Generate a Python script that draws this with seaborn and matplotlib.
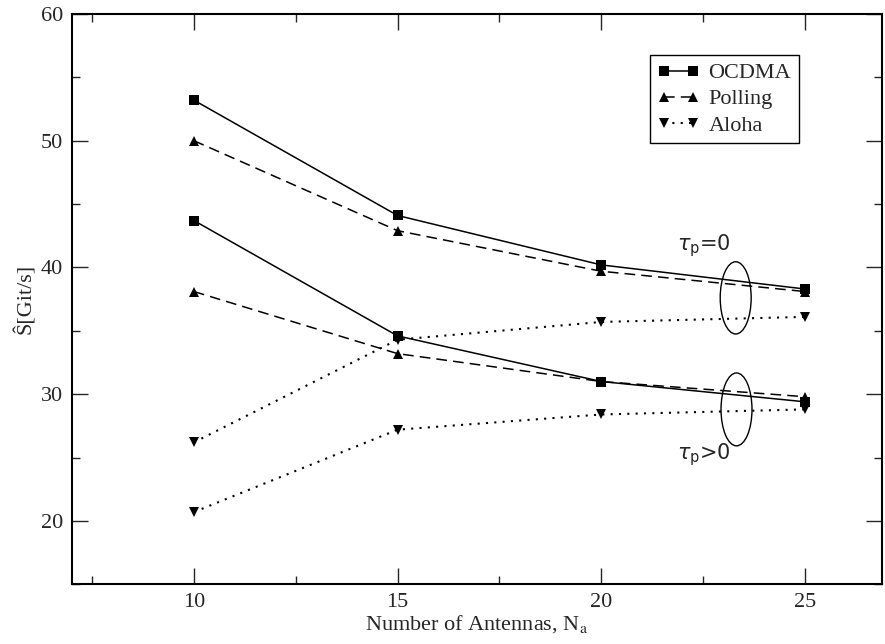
import matplotlib

matplotlib.use("Agg")
import matplotlib.pyplot as plt
import pandas as pd
import seaborn as sns
from matplotlib.patches import Ellipse
from matplotlib.ticker import MultipleLocator

# data
antennas = [10, 15, 20, 25]
ocdma_tau0 = [53.2, 44.1, 40.2, 38.3]
polling_tau0 = [50.0, 42.9, 39.7, 38.1]
aloha_tau0 = [26.2, 34.3, 35.7, 36.1]
ocdma_taupos = [43.7, 34.6, 31.0, 29.4]
polling_taupos = [38.1, 33.2, 31.0, 29.8]
aloha_taupos = [20.7, 27.2, 28.4, 28.8]

protocols = ["OCDMA", "Polling", "Aloha"]
series = {
    ("OCDMA", "tau0"): ocdma_tau0,
    ("Polling", "tau0"): polling_tau0,
    ("Aloha", "tau0"): aloha_tau0,
    ("OCDMA", "taupos"): ocdma_taupos,
    ("Polling", "taupos"): polling_taupos,
    ("Aloha", "taupos"): aloha_taupos,
}

rows = []
for (proto, case), vals in series.items():
    for n, s in zip(antennas, vals):
        rows.append({"Na": n, "S": s, "protocol": proto, "case": case})
df = pd.DataFrame(rows)

styles = {
    "OCDMA": dict(marker="s", markersize=6.5, linestyle="-", linewidth=1.1),
    "Polling": dict(marker="^", markersize=7.5, linestyle=(0, (7, 4)), linewidth=1.1),
    "Aloha": dict(marker="v", markersize=7.5, linestyle=(0, (1, 3)), linewidth=1.5),
}

sns.set_style("ticks")
plt.rcParams["font.family"] = ["Liberation Serif", "DejaVu Serif"]
plt.rcParams["mathtext.fontset"] = "stix"

fig = plt.figure(figsize=(8.85, 6.44), dpi=100)
ax = fig.add_axes([0.081, 0.0927, 0.916, 0.8856])

for case in ["tau0", "taupos"]:
    for proto in protocols:
        sub = df[(df["protocol"] == proto) & (df["case"] == case)]
        sns.lineplot(
            data=sub, x="Na", y="S", ax=ax, color="black",
            markeredgewidth=0, label=proto if case == "tau0" else None,
            **styles[proto],
        )

ax.set_xlim(7, 26.9)
ax.set_ylim(15, 60)
ax.xaxis.set_major_locator(MultipleLocator(5))
ax.xaxis.set_minor_locator(MultipleLocator(2.5))
ax.yaxis.set_major_locator(MultipleLocator(10))
ax.yaxis.set_minor_locator(MultipleLocator(5))
ax.tick_params(which="both", direction="in", top=True, right=True,
               width=1.0, labelsize=16, pad=6)
ax.tick_params(which="major", length=11.5)
ax.tick_params(which="minor", length=5.8)
for sp in ax.spines.values():
    sp.set_linewidth(1.5)
    sp.set_color("black")

ax.set_xlabel(r"Number of Antennas, N$_\mathrm{a}$", fontsize=16, labelpad=1)
ax.set_ylabel("Ŝ[Git/s]", fontsize=16, labelpad=4)

# grouping ellipses and tau annotations
ax.add_patch(Ellipse((23.3, 37.6), 0.76, 5.7, fill=False, lw=1.0, ec="black"))
ax.add_patch(Ellipse((23.32, 28.8), 0.76, 5.75, fill=False, lw=1.0, ec="black"))
ax.text(21.87, 41.7, r"$\tau_\mathrm{p}$=0", fontsize=15, va="center",
        family="DejaVu Sans", math_fontfamily="dejavusans")
ax.text(21.87, 25.2, r"$\tau_\mathrm{p}$>0", fontsize=15, va="center",
        family="DejaVu Sans", math_fontfamily="dejavusans")

leg = ax.legend(loc="upper left", bbox_to_anchor=(0.713, 0.928),
                borderaxespad=0, numpoints=2, fontsize=16, handlelength=1.9,
                handletextpad=0.4, labelspacing=0.25, borderpad=0.35,
                fancybox=False, framealpha=1, edgecolor="black")
leg.get_frame().set_linewidth(1.0)

fig.savefig("out.png", dpi=100)
